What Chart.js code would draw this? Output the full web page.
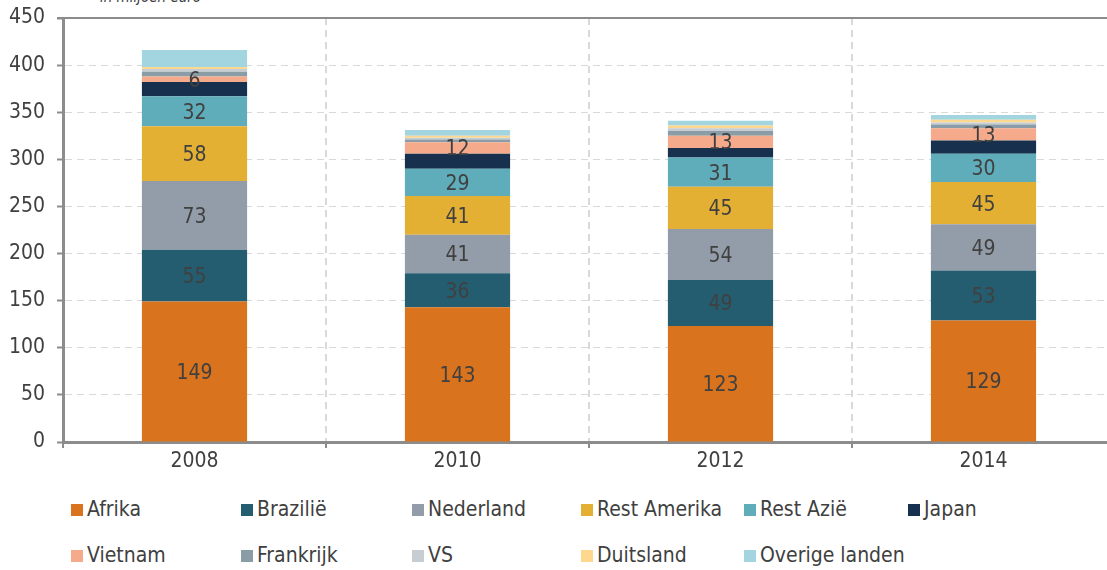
<!DOCTYPE html>
<html>
<head>
<meta charset="utf-8">
<script src="https://cdn.jsdelivr.net/npm/chart.js@4"></script>
<style>
  html, body { margin: 0; padding: 0; background: #fff; overflow: hidden; }
  body { width: 1107px; height: 570px; position: relative; font-family: "DejaVu Sans Condensed", "DejaVu Sans", sans-serif; font-stretch: condensed; color: #404040; }
  #wrap { position: absolute; left: 0; top: 0; width: 1120px; height: 480px; }
  #sub { position: absolute; left: 100px; top: -12px; font-size: 15px; font-style: italic; }
  .lg { position: absolute; font-size: 21px; line-height: 24px; white-space: nowrap; }
  .lg i { display: inline-block; width: 12px; height: 12px; margin-right: 4px; vertical-align: 0px; }
</style>
</head>
<body>
<div id="sub">in miljoen euro</div>
<div id="wrap"><canvas id="c"></canvas></div>
<div id="legend"></div>
<script>
// jaren
const years = ['2008', '2010', '2012', '2014'];
// y-as
const yTicks = [0, 50, 100, 150, 200, 250, 300, 350, 400, 450];

// waarden in miljoen euro, per herkomst
const afrika = [149, 143, 123, 129];
const brazilie = [55, 36, 49, 53];
const nederland = [73, 41, 54, 49];
const restAmerika = [58, 41, 45, 45];
const restAzie = [32, 29, 31, 30];
const japan = [15, 16, 10, 14];
const vietnam = [6, 12, 13, 13];
const frankrijk = [5, 3, 5, 4];
const vs = [3, 2, 3, 2];
const duitsland = [2, 2, 3, 3];
const overige = [18, 6, 5, 5];

const seriesNames = ['Afrika', 'Brazilië', 'Nederland', 'Rest Amerika', 'Rest Azië', 'Japan',
  'Vietnam', 'Frankrijk', 'VS', 'Duitsland', 'Overige landen'];
const seriesData = [afrika, brazilie, nederland, restAmerika, restAzie, japan,
  vietnam, frankrijk, vs, duitsland, overige];
const seriesColors = ['#DA731D', '#255D70', '#939DA9', '#E3B033', '#5FACBA', '#17304D',
  '#F5AA8B', '#8A9CA6', '#C6CDD3', '#FDD88E', '#A2D5DF'];
// alleen deze reeksen krijgen een waarde in de balk
const labelled = ['Afrika', 'Brazilië', 'Nederland', 'Rest Amerika', 'Rest Azië', 'Vietnam'];

const FONT = '"DejaVu Sans Condensed", "DejaVu Sans", sans-serif';
const TXT = '#404040';
const AXIS = '#8C8C8C';

// waarden midden in de segmenten + bovenste lijn
const segLabels = {
  id: 'segLabels',
  afterDatasetsDraw(chart) {
    const ctx = chart.ctx;
    ctx.save();
    ctx.font = '21px ' + FONT;
    ctx.fillStyle = TXT;
    ctx.textAlign = 'center';
    ctx.textBaseline = 'middle';
    chart.data.datasets.forEach((ds, i) => {
      if (!labelled.includes(ds.label)) return;
      chart.getDatasetMeta(i).data.forEach((bar, j) => {
        const mid = (bar.y + bar.base) / 2;
        ctx.fillText(String(ds.data[j]), bar.x, mid + 2);
      });
    });
    // bovenrand van het plotvlak (doorgetrokken)
    const a = chart.chartArea;
    ctx.strokeStyle = AXIS;
    ctx.lineWidth = 2;
    ctx.beginPath();
    ctx.moveTo(a.left - 6, a.top);
    ctx.lineTo(a.right, a.top);
    ctx.stroke();
    ctx.restore();
  }
};

const chart = new Chart(document.getElementById('c'), {
  type: 'bar',
  data: {
    labels: years,
    datasets: seriesNames.map((name, i) => ({
      label: name,
      data: seriesData[i],
      backgroundColor: seriesColors[i],
      borderWidth: 0,
      categoryPercentage: 1,
      barPercentage: 0.4
    }))
  },
  options: {
    responsive: true,
    maintainAspectRatio: false,
    animation: false,
    layout: { padding: { top: 18, right: 5, left: 0, bottom: 0 } },
    plugins: {
      legend: { display: false },
      tooltip: { enabled: false }
    },
    scales: {
      x: {
        stacked: true,
        grid: {
          offset: true,
          color: '#D9D9D9',
          lineWidth: 2,
          tickLength: 6,
          tickColor: AXIS,
          tickWidth: 2,
          tickBorderDash: []
        },
        border: { color: AXIS, width: 3, dash: [7, 5] },
        ticks: { color: TXT, font: { family: FONT, size: 21 }, padding: 1 },
        afterFit(scale) { scale.height = 38; }
      },
      y: {
        stacked: true,
        min: 0,
        max: 450,
        afterBuildTicks(scale) { scale.ticks = yTicks.map(v => ({ value: v })); },
        grid: {
          color: '#D9D9D9',
          lineWidth: 1,
          tickLength: 6,
          tickColor: AXIS,
          tickWidth: 2,
          tickBorderDash: []
        },
        border: { color: AXIS, width: 3, dash: [7, 5] },
        ticks: { color: TXT, font: { family: FONT, size: 21 }, padding: 12 },
        afterFit(scale) {
          scale.width = 63;
          scale.paddingTop = 0;
          scale.paddingBottom = 0;
        }
      }
    }
  },
  plugins: [segLabels]
});

// legenda in twee rijen, vaste kolommen
const legendCols = [71, 241, 412, 581, 744, 908];
const legendRows = [497, 543];
const legend = document.getElementById('legend');
seriesNames.forEach((name, i) => {
  const el = document.createElement('div');
  el.className = 'lg';
  el.style.left = legendCols[i % 6] + 'px';
  el.style.top = legendRows[Math.floor(i / 6)] + 'px';
  el.innerHTML = '<i style="background:' + seriesColors[i] + '"></i>' + name;
  legend.appendChild(el);
});
</script>
</body>
</html>
